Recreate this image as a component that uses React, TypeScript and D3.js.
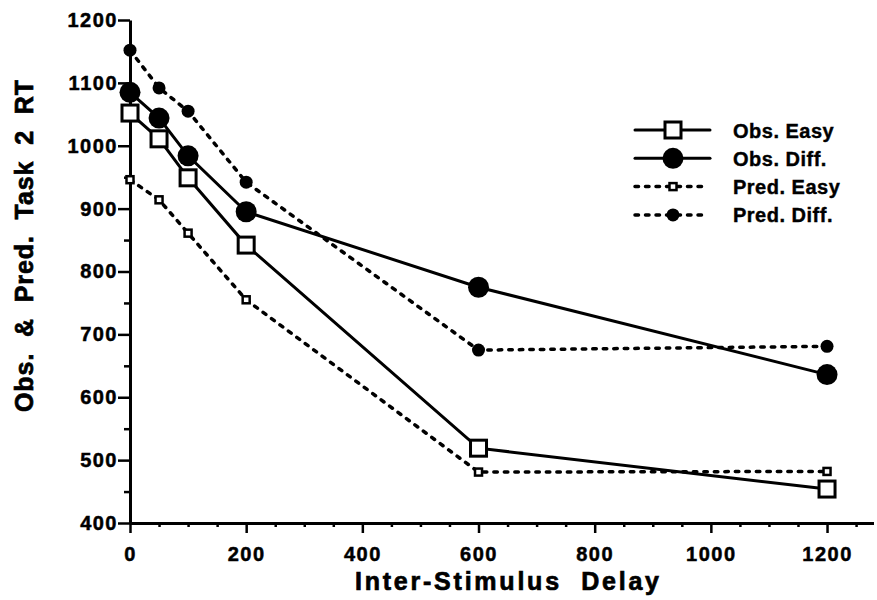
import * as d3 from 'd3';
import { useEffect, useRef } from 'react';

// Inter-stimulus delay (ms) and RT series
const delays = [0, 50, 100, 200, 600, 1200];
const obsEasy = [1052, 1011, 949, 842, 519, 454];
const obsDiff = [1085, 1044, 984, 895, 775, 636];
const predEasy = [946, 914, 861, 755, 481, 482];
const predDiff = [1152, 1092, 1055, 942, 675, 681];

const yTicks = [400, 500, 600, 700, 800, 900, 1000, 1100, 1200];
const xTicks = [0, 200, 400, 600, 800, 1000, 1200];

const legendLabels = ['Obs. Easy', 'Obs. Diff.', 'Pred. Easy', 'Pred. Diff.'];

const FONT = '"Liberation Sans", Arial, Helvetica, sans-serif';

const App = () => {
  const ref = useRef<SVGSVGElement>(null);

  useEffect(() => {
    const width = 877;
    const height = 600;
    const svg = d3.select(ref.current);
    svg.selectAll('*').remove();
    svg.attr('width', width).attr('height', height);

    svg.append('rect').attr('width', width).attr('height', height).attr('fill', '#fff');

    const x = d3.scaleLinear().domain([0, 1280]).range([130, 873.5]);
    const y = d3.scaleLinear().domain([400, 1200]).range([523, 20]);

    const series = [
      { name: legendLabels[0], values: obsEasy, dashed: false, shape: 'square', big: true },
      { name: legendLabels[1], values: obsDiff, dashed: false, shape: 'circle', big: true },
      { name: legendLabels[2], values: predEasy, dashed: true, shape: 'square', big: false },
      { name: legendLabels[3], values: predDiff, dashed: true, shape: 'circle', big: false },
    ];

    // Axes: major and minor ticks
    const xMinor = d3.range(50, 1300, 50).filter(v => v % 200 !== 0);
    const yMinor = d3.range(450, 1200, 100);
    const fmt = d3.format('d');

    const xAxisG = svg.append('g')
      .attr('transform', `translate(0,${y(400)})`)
      .call(d3.axisBottom(x).tickValues(xTicks).tickFormat(fmt).tickSize(10).tickPadding(14).tickSizeOuter(0));
    xAxisG.select('.domain').attr('stroke-width', 3);
    xAxisG.selectAll('line').attr('stroke-width', 2.5);

    const xMinorG = svg.append('g')
      .attr('transform', `translate(0,${y(400)})`)
      .call(d3.axisBottom(x).tickValues(xMinor).tickSize(4).tickFormat(() => ''));
    xMinorG.select('.domain').remove();
    xMinorG.selectAll('line').attr('stroke-width', 2.5);

    const yAxisG = svg.append('g')
      .attr('transform', `translate(${x(0)},0)`)
      .call(d3.axisLeft(y).tickValues(yTicks).tickFormat(fmt).tickSize(12).tickPadding(0).tickSizeOuter(0));
    yAxisG.select('.domain').attr('stroke-width', 3);
    yAxisG.selectAll('line').attr('stroke-width', 2.5);

    const yMinorG = svg.append('g')
      .attr('transform', `translate(${x(0)},0)`)
      .call(d3.axisLeft(y).tickValues(yMinor).tickSize(6).tickFormat(() => ''));
    yMinorG.select('.domain').remove();
    yMinorG.selectAll('line').attr('stroke-width', 2.5);

    svg.selectAll('.tick text')
      .attr('font-family', FONT)
      .attr('font-weight', 'bold')
      .attr('font-size', 20)
      .attr('letter-spacing', 1.5)
      .attr('stroke', '#000')
      .attr('stroke-width', 0.5)
      .attr('fill', '#000');

    // Lines
    const line = d3.line<number>()
      .x((d, i) => x(delays[i]))
      .y(d => y(d));

    series.forEach(s => {
      svg.append('path')
        .datum(s.values)
        .attr('fill', 'none')
        .attr('stroke', '#000')
        .attr('stroke-width', s.dashed ? 3.5 : 3)
        .attr('stroke-linecap', 'round')
        .attr('stroke-dasharray', s.dashed ? '3.5 7' : null)
        .attr('d', line);
    });

    const drawMarker = (g, s, cx, cy) => {
      if (s.shape === 'circle') {
        g.append('circle')
          .attr('cx', cx).attr('cy', cy)
          .attr('r', s.big ? 10.5 : 6.5)
          .attr('fill', '#000');
      } else {
        const side = s.big ? 16 : 7;
        g.append('rect')
          .attr('x', cx - side / 2).attr('y', cy - side / 2)
          .attr('width', side).attr('height', side)
          .attr('fill', '#fff')
          .attr('stroke', '#000')
          .attr('stroke-width', s.big ? 3 : 2.5);
      }
    };

    // Markers: circles first so open squares sit on top
    const order = [series[3], series[1], series[2], series[0]];
    order.forEach(s => {
      const g = svg.append('g');
      s.values.forEach((v, i) => drawMarker(g, s, x(delays[i]), y(v)));
    });

    // Legend
    const legend = svg.append('g');
    series.forEach((s, i) => {
      const ly = 130 + i * 28.3;
      legend.append('line')
        .attr('x1', 635).attr('x2', s.dashed ? 703 : 710)
        .attr('y1', ly).attr('y2', ly)
        .attr('stroke', '#000')
        .attr('stroke-width', s.dashed ? 3.5 : 3)
        .attr('stroke-linecap', 'round')
        .attr('stroke-dasharray', s.dashed ? '3.5 7' : null);
      drawMarker(legend, s, 673, ly);
      legend.append('text')
        .attr('x', 733).attr('y', ly + 7.5)
        .attr('font-family', FONT)
        .attr('font-weight', 'bold')
        .attr('font-size', 20)
        .attr('letter-spacing', 0.5)
        .attr('stroke', '#000')
        .attr('stroke-width', 0.4)
        .text(s.name);
    });

    // Axis titles
    svg.append('text')
      .attr('x', 507).attr('y', 590)
      .attr('text-anchor', 'middle')
      .attr('font-family', FONT)
      .attr('font-weight', 'bold')
      .attr('font-size', 25)
      .attr('textLength', 304)
      .attr('lengthAdjust', 'spacing')
      .attr('stroke', '#000')
      .attr('stroke-width', 0.7)
      .style('white-space', 'pre')
      .text('Inter-Stimulus  Delay');

    svg.append('text')
      .attr('transform', 'translate(33,246) rotate(-90)')
      .attr('text-anchor', 'middle')
      .attr('font-family', FONT)
      .attr('font-weight', 'bold')
      .attr('font-size', 25)
      .attr('textLength', 332)
      .attr('lengthAdjust', 'spacing')
      .attr('stroke', '#000')
      .attr('stroke-width', 0.7)
      .style('white-space', 'pre')
      .text('Obs.  &  Pred.  Task  2  RT');
  }, []);

  return (
    <div style={{ position: 'fixed', left: 0, top: 0 }}>
      <svg ref={ref} style={{ display: 'block' }}></svg>
    </div>
  );
};

export default App;
